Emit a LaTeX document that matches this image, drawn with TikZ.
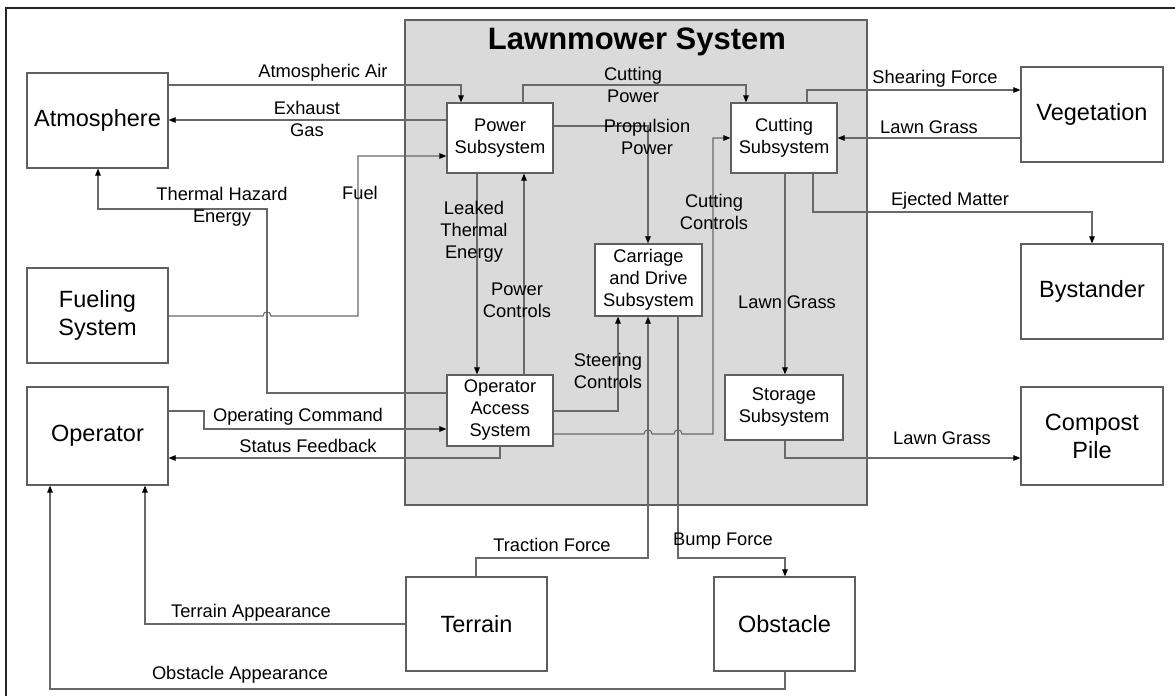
\documentclass[tikz,border=0pt]{standalone}
\usepackage{fontspec}
\setmainfont{Liberation Sans}
\usetikzlibrary{arrows.meta}
\definecolor{linegray}{RGB}{105,105,105}
\definecolor{boxgray}{RGB}{95,95,95}
\definecolor{sysfill}{RGB}{218,218,218}
\tikzset{
  outerbox/.style={draw=boxgray, line width=1.2pt, fill=white, inner sep=0pt, align=center,
    font=\fontsize{23.5}{28}\selectfont},
  innerbox/.style={draw=boxgray, line width=1.2pt, fill=white, inner sep=0pt, align=center,
    font=\fontsize{18.3}{22}\selectfont},
  conn/.style={draw=linegray, line width=1.1pt, -{Triangle[length=7pt,width=5.5pt,color=black]}},
  lbl/.style={inner sep=0pt, align=center, font=\fontsize{18.3}{22}\selectfont},
}
\begin{document}
\begin{tikzpicture}[x=1pt,y=-1pt]
\useasboundingbox (0,0) rectangle (1175,696);
% frame
\draw[line width=2.6pt, black!85] (6,696) -- (6,8) -- (1175,8);
% system box
\node[draw=boxgray, line width=1.2pt, fill=sysfill, minimum width=462pt, minimum height=485pt, inner sep=0pt] (sys) at (636,262.5) {};
\node[inner sep=0pt, font=\fontsize{31}{36}\selectfont\bfseries] (title) at (637,42) {Lawnmower System};
% outer boxes
\node[outerbox, minimum width=141pt, minimum height=95pt] (atm) at (97.5,120.5) {Atmosphere};
\node[outerbox, minimum width=141pt, minimum height=95pt] (fuel) at (97.5,315.5) {Fueling\\System};
\node[outerbox, minimum width=141pt, minimum height=98pt] (oper) at (97.5,436) {Operator};
\node[outerbox, minimum width=142pt, minimum height=95pt] (veg) at (1092,114.5) {Vegetation};
\node[outerbox, minimum width=142pt, minimum height=95pt] (byst) at (1092,291.5) {Bystander};
\node[outerbox, minimum width=142pt, minimum height=98pt] (comp) at (1092,436) {Compost\\Pile};
\node[outerbox, minimum width=141pt, minimum height=94pt] (terr) at (476.5,624) {Terrain};
\node[outerbox, minimum width=141pt, minimum height=94pt] (obst) at (784.5,624) {Obstacle};
% inner boxes
\node[innerbox, minimum width=106pt, minimum height=70pt] (power) at (500,138) {Power\\Subsystem};
\node[innerbox, minimum width=106pt, minimum height=70pt] (cut) at (784,138) {Cutting\\Subsystem};
\node[innerbox, minimum width=107pt, minimum height=72pt] (carr) at (648.5,280) {Carriage\\and Drive\\Subsystem};
\node[innerbox, minimum width=106pt, minimum height=71pt] (oas) at (500,410.5) {Operator\\Access\\System};
\node[innerbox, minimum width=118pt, minimum height=65pt] (stor) at (784,407.5) {Storage\\Subsystem};
% connectors
\draw[conn] (atm.east |- 0,85) -- (461,85) -- (461,0 |- power.north);
\draw[conn] (power.west |- 0,120) -- (atm.east |- 0,120);
\draw[conn] (fuel.east |- 0,316) -- (263,316) .. controls (263,310.5) and (271,310.5) .. (271,316) -- (358,316) -- (358,156) -- (power.west |- 0,156);
\draw[conn] (oas.west |- 0,393) -- (267,393) -- (267,209) -- (98,209) -- (98,0 |- atm.south);
\draw[conn] (oper.east |- 0,411) -- (204,411) -- (204,429) -- (oas.west |- 0,429);
\draw[conn] (500,0 |- oas.south) -- (500,458) -- (oper.east |- 0,458);
\draw[conn] (477,0 |- power.south) -- (477,0 |- oas.north);
\draw[conn] (524,0 |- oas.north) -- (524,0 |- power.south);
\draw[conn] (523,0 |- power.north) -- (523,85) -- (746,85) -- (746,0 |- cut.north);
\draw[conn] (power.east |- 0,126) -- (648,126) -- (648,0 |- carr.north);
\draw[conn] (oas.east |- 0,434) -- (644,434) .. controls (644,428.5) and (652,428.5) .. (652,434) -- (674,434) .. controls (674,428.5) and (682,428.5) .. (682,434) -- (713,434) -- (713,138) -- (cut.west |- 0,138);
\draw[conn] (oas.east |- 0,411) -- (618,411) -- (618,0 |- carr.south);
\draw[conn] (476,0 |- terr.north) -- (476,558) -- (648,558) -- (648,0 |- carr.south);
\draw[conn] (678,0 |- carr.south) -- (678,558) -- (785,558) -- (785,0 |- obst.north);
\draw[conn] (terr.west |- 0,624) -- (145,624) -- (145,0 |- oper.south);
\draw[conn] (785,0 |- obst.south) -- (785,689) -- (50,689) -- (50,0 |- oper.south);
\draw[conn] (807,0 |- cut.north) -- (807,90) -- (veg.west |- 0,90);
\draw[conn] (veg.west |- 0,138) -- (cut.east |- 0,138);
\draw[conn] (813,0 |- cut.south) -- (813,212) -- (1092,212) -- (byst.north);
\draw[conn] (785,0 |- cut.south) -- (785,0 |- stor.north);
\draw[conn] (785,0 |- stor.south) -- (785,458) -- (comp.west |- 0,458);
% labels
\node[lbl] (l1) at (323,73) {Atmospheric Air};
\node[lbl] (l2) at (307,119) {Exhaust\\Gas};
\node[lbl] (l3) at (360,193) {Fuel};
\node[lbl] (l4) at (222,207) {Thermal Hazard\\Energy};
\node[lbl] (l5) at (298,417) {Operating Command};
\node[lbl] (l6) at (308,446) {Status Feedback};
\node[lbl] (l7) at (474,232) {Leaked\\Thermal\\Energy};
\node[lbl] (l8) at (517,300) {Power\\Controls};
\node[lbl] (l9) at (633,85) {Cutting\\Power};
\node[lbl] (l10) at (647,137) {Propulsion\\Power};
\node[lbl] (l11) at (714,212) {Cutting\\Controls};
\node[lbl] (l12) at (608,371) {Steering\\Controls};
\node[lbl] (l13) at (552,545) {Traction Force};
\node[lbl] (l14) at (723,541) {Bump Force};
\node[lbl] (l15) at (251,613) {Terrain Appearance};
\node[lbl] (l16) at (240,675) {Obstacle Appearance};
\node[lbl] (l17) at (935,79) {Shearing Force};
\node[lbl] (l18) at (929,127) {Lawn Grass};
\node[lbl] (l19) at (950,201) {Ejected Matter};
\node[lbl] (l20) at (787,302) {Lawn Grass};
\node[lbl] (l21) at (942,438) {Lawn Grass};
\end{tikzpicture}
\end{document}
